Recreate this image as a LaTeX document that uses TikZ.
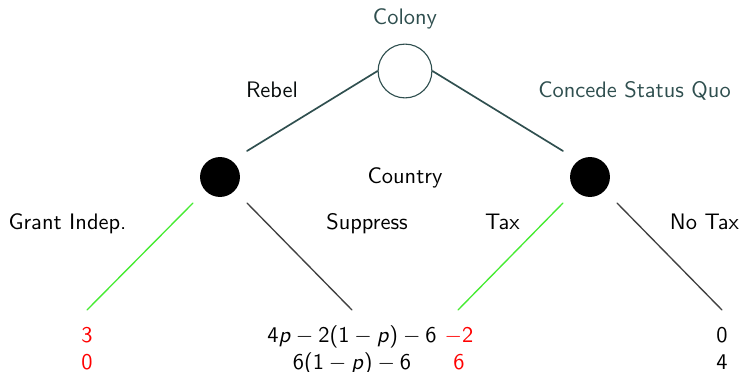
\documentclass[tikz,border=0pt]{standalone}
\usepackage{amsmath}
\usepackage{tikz}
\usepackage{xcolor}
\usetikzlibrary{calc,positioning}
\definecolor{slate}{RGB}{47,79,79}
\definecolor{branchgreen}{RGB}{70,235,50}
\newcommand{\gmin}{${}-{}$}
\tikzset{
  every picture/.append style={line cap=round,line join=round},
  game root/.style={circle,draw=slate,fill=white,minimum size=24pt,inner sep=0pt,line width=0.5pt},
  game chance/.style={circle,fill=black,minimum size=17.8pt,inner sep=0pt},
  game upper/.style={slate,line width=0.75pt},
  game lower/.style={black!75,line width=0.6pt},
  game grant/.style={branchgreen,line width=0.6pt},
  game label/.style={font=\sffamily,anchor=base,inner sep=0pt},
  game payoff/.style={font=\sffamily,anchor=base,inner sep=0pt}
}
\begin{document}
\begin{tikzpicture}[x=0.446pt,y=-0.446pt]
  \useasboundingbox (0,0) rectangle (743,372);
  \node[game root] (colony) at (405,71) {};
  \node[game chance] (lc) at (220,177) {};
  \node[game chance] (rc) at (590,177) {};
  \coordinate (gi) at (87,310);
  \coordinate (su) at (352,310);
  \coordinate (tx) at (458,310);
  \coordinate (nt) at (722,310);
  \draw[game upper] (colony.west) -- ($(lc)+(27,-26)$);
  \draw[game upper] (colony.east) -- ($(rc)+(-27,-26)$);
  \draw[game grant] ($(lc)+(-27,26)$) -- (gi);
  \draw[game lower] ($(lc)+(27,26)$) -- (su);
  \draw[game grant] ($(rc)+(-27,26)$) -- (tx);
  \draw[game lower] ($(rc)+(27,26)$) -- (nt);
  \node[game label,slate] (lcolony) at (405,25) {Colony};
  \node[game label,black!85!slate] (lrebel) at (272,98) {Rebel};
  \node[game label,slate] (lconcede) at (634.5,98) {Concede Status Quo};
  \node[game label] (lcountry) at (405,184) {Country};
  \node[game label] (lgrant) at (67.5,230) {Grant Indep.};
  \node[game label] (lsuppress) at (367,230) {Suppress};
  \node[game label] (ltax) at (502.5,230) {Tax};
  \node[game label] (lnotax) at (704.5,230) {No Tax};
  \foreach \x/\a/\b/\c in {87/3/0/red,352/{4\textsl{p}\gmin2(1\gmin\textsl{p})\gmin6}/{6(1\gmin\textsl{p})\gmin6}/black,459/{$-$2}/6/red,722/0/4/black} {
    \node[game payoff,\c] (pa\x) at (\x,343) {\a};
    \node[game payoff,\c] (pb\x) at (\x,370) {\b};
  }
\end{tikzpicture}
\end{document}
